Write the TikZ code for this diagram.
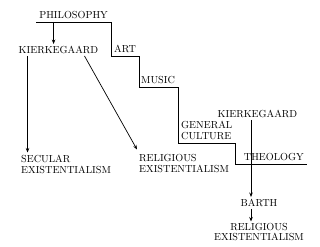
\documentclass[tikz,border=0pt]{standalone}
\usetikzlibrary{positioning,arrows.meta,calc}
\tikzset{
  term/.style={font=\fontsize{10.2}{11}\selectfont,inner xsep=3pt,inner ysep=2pt,align=left},
  stepterm/.style={term,inner ysep=3pt},
  arr/.style={-{Stealth[length=4.5pt,width=3.5pt]},line width=0.7pt},
  stair/.style={line width=0.7pt},
}
\begin{document}
\begin{tikzpicture}[x=1pt,y=-1pt]
  \useasboundingbox (0,0) rectangle (320,246);
  % staircase of fields
  \node[stepterm,anchor=south east] (philo) at (111,22) {PHILOSOPHY};
  \node[stepterm,anchor=south west] (art) at (111,56) {ART};
  \node[stepterm,anchor=south west] (music) at (138,87) {MUSIC};
  \node[stepterm,anchor=south west] (culture) at (178,143) {GENERAL\\CULTURE};
  \node[stepterm,anchor=south east] (theo) at (307,164) {THEOLOGY};
  \draw[stair] (philo.south west) -- (philo.south east) |- (art.south east)
    |- (music.south east) |- (culture.south east) |- (theo.south east);
  % left branch
  \node[term] (kierkA) at (58.5,50) {KIERKEGAARD};
  \node[term,anchor=north west] (secular) at (18,152.5) {SECULAR\\EXISTENTIALISM};
  \node[term,anchor=north west] (religA) at (136,152.5) {RELIGIOUS\\EXISTENTIALISM};
  \draw[arr] ([xshift=-20pt]philo.south) -- ([xshift=-20pt]philo.south |- kierkA.north);
  \draw[arr] ([xshift=12pt]kierkA.south west) -- ([xshift=12pt]kierkA.south west |- secular.north);
  \draw[arr] ([xshift=-17pt]kierkA.south east) -- ([shift={(1pt,3pt)}]religA.north west);
  % right branch
  \node[term] (kierkB) at (257.5,114) {KIERKEGAARD};
  \node[term] (barth) at (259,203) {BARTH};
  \node[term,align=center,font=\fontsize{10.2}{10}\selectfont,anchor=north] (religB) at (259,221.5)
    {RELIGIOUS\\EXISTENTIALISM};
  \draw[arr] ([xshift=-6.5pt]kierkB.south) -- ([xshift=-6.5pt]kierkB.south |- barth.north);
  \draw[arr] ([xshift=-8pt]barth.south) -- ([xshift=-8pt]barth.south |- religB.north);
\end{tikzpicture}
\end{document}
